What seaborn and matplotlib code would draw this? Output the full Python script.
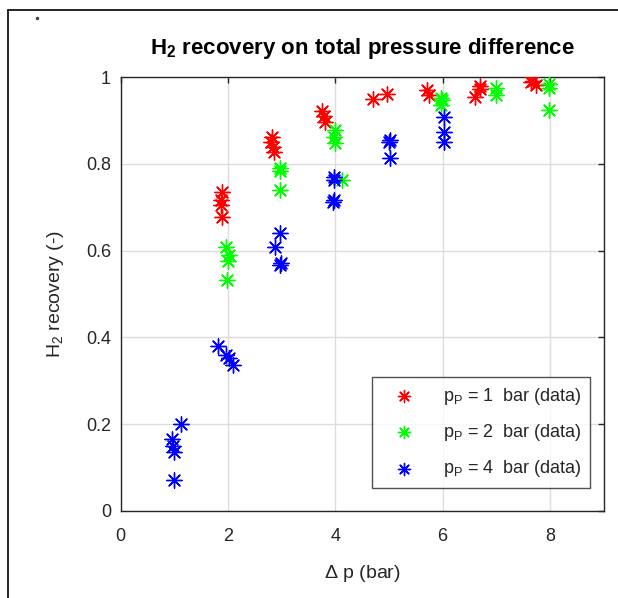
import numpy as np
import pandas as pd
import matplotlib
matplotlib.use("Agg")
import matplotlib.pyplot as plt
from matplotlib.lines import Line2D
import seaborn as sns

# data (delta p in bar, H2 recovery)
p1_dp = [1.88, 1.86, 1.87, 1.88, 2.82, 2.80, 2.84, 2.86, 3.76, 3.78, 3.80,
         4.71, 4.96, 5.70, 5.74, 6.60, 6.70, 6.69, 7.64, 7.69, 7.73]
p1_rec = [0.736, 0.717, 0.705, 0.678, 0.862, 0.850, 0.838, 0.828, 0.922, 0.910, 0.897,
          0.949, 0.960, 0.970, 0.958, 0.955, 0.980, 0.972, 0.988, 0.990, 0.982]

p2_dp = [1.96, 2.01, 2.00, 1.98, 2.96, 2.96, 2.97, 3.99, 3.99, 3.98, 4.12,
         5.97, 5.98, 5.96, 6.99, 7.00, 7.98, 7.99, 7.98]
p2_rec = [0.609, 0.590, 0.576, 0.532, 0.790, 0.783, 0.740, 0.878, 0.849, 0.862, 0.763,
          0.953, 0.947, 0.935, 0.974, 0.959, 0.985, 0.974, 0.924]

p4_dp = [1.13, 0.96, 0.98, 0.99, 0.99, 1.81, 1.97, 2.02, 2.09, 2.97, 2.87, 2.97, 2.98,
         3.97, 3.98, 3.97, 3.96, 5.01, 5.00, 5.01, 6.02, 6.02, 6.02]
p4_rec = [0.200, 0.165, 0.150, 0.137, 0.071, 0.380, 0.359, 0.352, 0.336, 0.640, 0.609, 0.567, 0.572,
          0.770, 0.762, 0.717, 0.712, 0.855, 0.850, 0.813, 0.909, 0.874, 0.851]

series_labels = [r"$\mathregular{p_P}$ = 1  bar (data)",
                 r"$\mathregular{p_P}$ = 2  bar (data)",
                 r"$\mathregular{p_P}$ = 4  bar (data)"]
series_colors = ["#ff0000", "#00ff00", "#0000ff"]

x_ticks = [0, 2, 4, 6, 8]
y_ticks = [0, 0.2, 0.4, 0.6, 0.8, 1]
y_ticklabels = ["0", "0.2", "0.4", "0.6", "0.8", "1"]

# long-form table for seaborn
df = pd.concat([
    pd.DataFrame({"dp": p1_dp, "rec": p1_rec, "series": series_labels[0]}),
    pd.DataFrame({"dp": p2_dp, "rec": p2_rec, "series": series_labels[1]}),
    pd.DataFrame({"dp": p4_dp, "rec": p4_rec, "series": series_labels[2]}),
])

sns.set_theme(style="white")
plt.rcParams['font.family'] = ['Liberation Sans', 'DejaVu Sans']
plt.rcParams['mathtext.fontset'] = 'custom'
plt.rcParams['mathtext.rm'] = 'Liberation Sans'
plt.rcParams['mathtext.bf'] = 'Liberation Sans:bold'

fig = plt.figure(figsize=(6.18, 5.98), dpi=100)
ax = fig.add_axes([0.1953, 0.1455, 0.7815, 0.7255])

asterisk = (8, 2, 0)  # MATLAB-like '*' marker
for lab, col in zip(series_labels, series_colors):
    sub = df[df["series"] == lab]
    sns.scatterplot(data=sub, x="dp", y="rec", ax=ax, color=col, marker=asterisk,
                    s=120, linewidth=1.0, label=lab, zorder=3)

ax.set_xlim(0, 9)
ax.set_ylim(0, 1)
ax.set_xticks(x_ticks)
ax.set_yticks(y_ticks)
ax.set_yticklabels(y_ticklabels)
ax.grid(True, color="#dcdcdc", linewidth=1.0)
ax.set_axisbelow(True)
for sp in ax.spines.values():
    sp.set_color("#262626")
    sp.set_linewidth(1.0)
ax.tick_params(direction="in", top=True, right=True, length=4, width=1,
               colors="#262626", labelsize=13)
ax.tick_params(axis="x", pad=12)
ax.tick_params(axis="y", pad=7)
for t in ax.get_xticklabels() + ax.get_yticklabels():
    t.set_color("#262626")

ax.set_xlabel(r"$\Delta$ p (bar)", fontsize=14, color="#262626", labelpad=13)
ax.set_ylabel(r"$\mathregular{H_2}$ recovery (-)", fontsize=14, color="#262626", labelpad=14)
ax.set_title(r"$\mathbf{H_2}$ recovery on total pressure difference", fontsize=16,
             fontweight="bold", color="black", pad=17)

leg = ax.legend(loc="lower right", bbox_to_anchor=(0.972, 0.052), fontsize=13,
                frameon=True, fancybox=False, edgecolor="#262626", borderpad=0.5,
                labelspacing=0.85, handlelength=2.5, handletextpad=0.9, borderaxespad=0,
                markerscale=0.8)
leg.get_frame().set_linewidth(1.0)
for txt in leg.get_texts():
    txt.set_color("#262626")

# screenshot frame lines (left and top) and stray dot
fig.add_artist(Line2D([8 / 618, 8 / 618], [0, 1 - 10 / 598], transform=fig.transFigure,
                      color="black", linewidth=1.2))
fig.add_artist(Line2D([8 / 618, 1], [1 - 10 / 598, 1 - 10 / 598], transform=fig.transFigure,
                      color="black", linewidth=1.2))
fig.add_artist(Line2D([37 / 618], [1 - 18 / 598], transform=fig.transFigure, marker="o",
                      markersize=1.5, color="#444444", linestyle="none"))

fig.savefig("out.png", dpi=100)
